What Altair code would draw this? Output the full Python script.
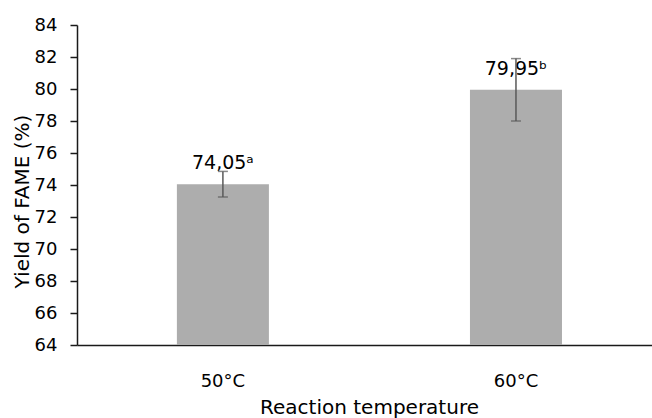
import altair as alt
import pandas as pd

temps = ["50°C", "60°C"]
yields = [74.05, 79.95]
errors = [0.8, 1.95]
labels = ["74,05ᵃ", "79,95ᵇ"]

df = pd.DataFrame({
    "temp": temps,
    "yield": yields,
    "lo": [v - e for v, e in zip(yields, errors)],
    "hi": [v + e for v, e in zip(yields, errors)],
    "label": labels,
})

FONT = "DejaVu Sans"

xscale = alt.Scale(paddingInner=0.686, paddingOuter=0.324, align=0.526)
yscale = alt.Scale(domain=[64, 84], nice=False, zero=False)

xaxis = alt.Axis(title="Reaction temperature", labelAngle=0, ticks=False, tickSize=0,
                 labelPadding=41, labelBaseline="alphabetic", labelFontSize=18,
                 labelFont=FONT, labelColor="#000000", grid=False,
                 domainColor="#1a1a1a", domainWidth=1.5,
                 titleFont=FONT, titleFontSize=20, titleFontWeight="normal",
                 titleColor="#000000", titleX=292, titleY=68,
                 titleBaseline="alphabetic", titleAlign="center")

yaxis = alt.Axis(title="Yield of FAME (%)", values=list(range(64, 85, 2)), grid=False,
                 labelOverlap=False,
                 tickSize=7, tickColor="#1a1a1a", tickWidth=1.5,
                 domainColor="#1a1a1a", domainWidth=1.5,
                 labelPadding=13, labelFontSize=18, labelFont=FONT, labelColor="#000000",
                 titleFont=FONT, titleFontSize=20, titleFontWeight="normal",
                 titleColor="#000000", titleAngle=270, titleX=-49, titleY=176,
                 titleBaseline="alphabetic", titleAlign="center")


def X():
    return alt.X("temp:N", scale=xscale, sort=temps, axis=xaxis)


def Y(field):
    return alt.Y(field, scale=yscale, axis=yaxis)


base = alt.Chart(df)

bars = base.mark_bar(color="#ADADAD", clip=True).encode(
    x=X(), y=Y("yield:Q"), y2=alt.datum(64))

rule = base.mark_rule(color="#595959", strokeWidth=1.5).encode(
    x=X(), y=Y("lo:Q"), y2="hi:Q")
cap_lo = base.mark_tick(color="#595959", thickness=1.5, size=10).encode(
    x=X(), y=Y("lo:Q"))
cap_hi = base.mark_tick(color="#595959", thickness=1.5, size=10).encode(
    x=X(), y=Y("hi:Q"))
text = base.mark_text(font=FONT, fontSize=19, color="#000000", dy=-15,
                      baseline="alphabetic", align="center").encode(
    x=X(), y=Y("yield:Q"), text="label:N")

chart = alt.layer(bars, text, rule, cap_lo, cap_hi).properties(
    width=575, height=320,
    autosize=alt.AutoSizeParams(type="none"),
    padding={"left": 77, "top": 25, "right": 0, "bottom": 73},
).configure(background="white").configure_view(stroke=None)

chart.save("out.html", embed_options={"renderer": "svg", "actions": False})
